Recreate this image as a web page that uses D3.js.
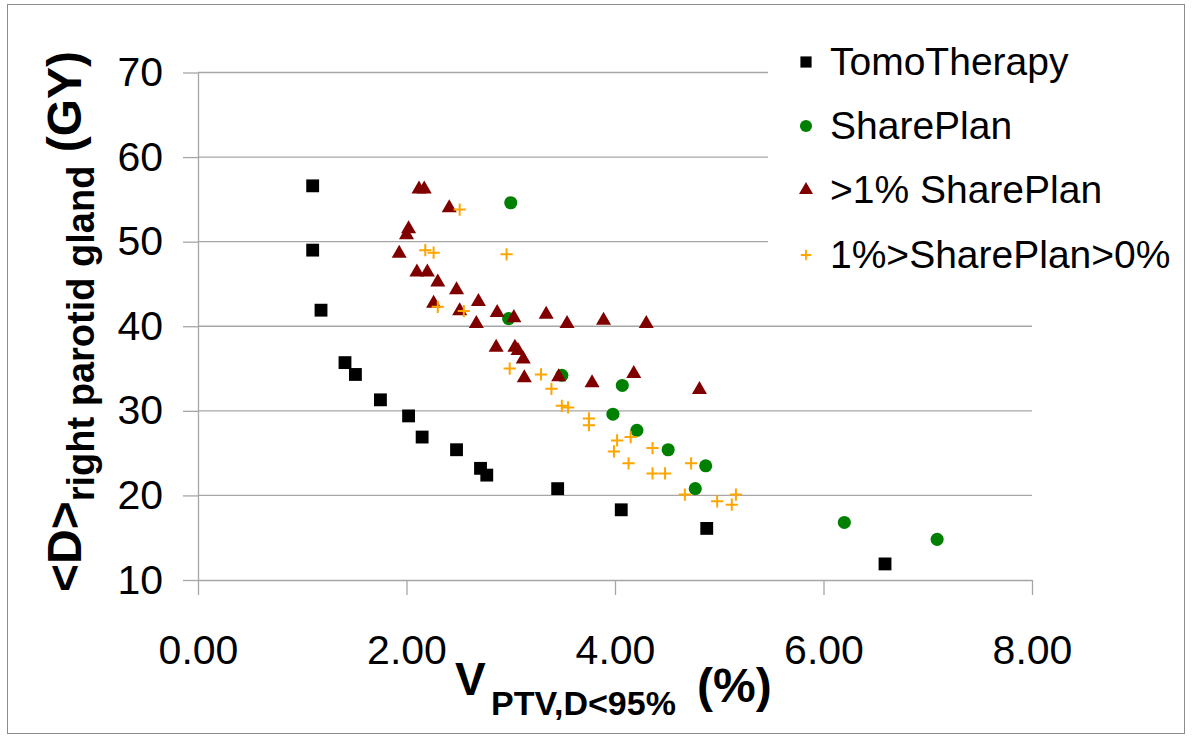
<!DOCTYPE html>
<html>
<head>
<meta charset="utf-8">
<script src="https://cdn.jsdelivr.net/npm/d3@7"></script>
<style>
  html, body { margin: 0; padding: 0; background: #fff; }
  svg { display: block; }
  text { font-family: "Liberation Sans", Arial, sans-serif; }
</style>
</head>
<body>
<svg id="chart" width="1192" height="739"></svg>
<script>
// ---- data ----
const seriesNames = ["TomoTherapy", "SharePlan", ">1% SharePlan", "1%>SharePlan>0%"];

const tomoX = [1.10, 1.10, 1.18, 1.41, 1.51, 1.75, 2.02, 2.15, 2.48, 2.71, 2.77, 3.45, 4.06, 4.88, 6.59];
const tomoY = [56.6, 49.0, 41.9, 35.7, 34.3, 31.3, 29.4, 26.9, 25.4, 23.2, 22.4, 20.8, 18.3, 16.1, 11.9];

const shareX = [3.00, 2.98, 3.49, 4.07, 3.98, 4.21, 4.51, 4.87, 4.77, 6.20, 7.09];
const shareY = [54.6, 40.9, 34.2, 33.0, 29.6, 27.7, 25.4, 23.5, 20.8, 16.8, 14.8];

const gt1X = [2.12, 2.17, 2.41, 2.02, 2.00, 1.93, 2.10, 2.20, 2.30, 2.48, 2.69, 2.26, 2.51, 2.87, 3.03,
              3.34, 3.54, 2.67, 2.86, 3.04, 3.07, 3.12, 3.13, 3.46, 3.78, 4.18, 4.81, 3.89, 4.30];
const gt1Y = [56.2, 56.2, 54.0, 51.5, 50.8, 48.6, 46.4, 46.4, 45.2, 44.3, 42.9, 42.7, 41.8, 41.6, 41.0,
              41.4, 40.3, 40.3, 37.5, 37.5, 37.1, 36.1, 33.9, 34.0, 33.3, 34.4, 32.5, 40.7, 40.3];

const lt1X = [2.51, 2.18, 2.26, 2.96, 2.30, 2.55, 2.99, 3.29, 3.39, 3.49, 3.55, 3.75, 3.75, 4.02, 4.15,
              3.99, 4.36, 4.13, 4.36, 4.48, 4.73, 4.67, 4.98, 5.16, 5.12];
const lt1Y = [53.8, 49.0, 48.7, 48.5, 42.3, 41.8, 35.0, 34.3, 32.6, 30.6, 30.4, 29.1, 28.3, 26.5, 26.9,
              25.2, 25.6, 23.8, 22.6, 22.6, 23.8, 20.1, 19.3, 20.1, 18.9];

const xTicks = [0, 2, 4, 6, 8];
const xTickLabels = ["0.00", "2.00", "4.00", "6.00", "8.00"];
const yTicks = [10, 20, 30, 40, 50, 60, 70];
const yTickLabels = ["10", "20", "30", "40", "50", "60", "70"];

// ---- layout ----
const svg = d3.select("#chart");
const W = 1192, H = 739;
const plot = { left: 198, right: 1032, top: 72.5, bottom: 580 };

const x = d3.scaleLinear().domain([0, 8]).range([plot.left, plot.right]);
const y = d3.scaleLinear().domain([10, 70]).range([plot.bottom, plot.top]);

// chart border
svg.append("rect")
  .attr("x", 7.5).attr("y", 4.5).attr("width", W - 15).attr("height", H - 10)
  .attr("fill", "#fff").attr("stroke", "#8c8c8c").attr("stroke-width", 1);

const gridColor = "#a6a6a6";

// gridlines
svg.append("g").selectAll("line").data(yTicks.filter(d => d !== 10)).join("line")
  .attr("x1", plot.left).attr("x2", plot.right)
  .attr("y1", d => y(d)).attr("y2", d => y(d))
  .attr("stroke", gridColor).attr("stroke-width", 1.3);

// y axis
const yAxis = d3.axisLeft(y).tickValues(yTicks).tickFormat((d, i) => yTickLabels[i])
  .tickSize(15).tickPadding(20).tickSizeOuter(0);
const gy = svg.append("g").attr("transform", `translate(${plot.left},0)`).call(yAxis);
gy.select(".domain").attr("stroke", gridColor).attr("stroke-width", 1.3);
gy.selectAll(".tick line").attr("stroke", gridColor).attr("stroke-width", 1.3);
gy.selectAll(".tick text").attr("font-size", 41).attr("fill", "#000")
  .attr("font-family", "'Liberation Sans', Arial, sans-serif");

// x axis
const xAxis = d3.axisBottom(x).tickValues(xTicks).tickFormat((d, i) => xTickLabels[i])
  .tickSize(15).tickPadding(40).tickSizeOuter(0);
const gx = svg.append("g").attr("transform", `translate(0,${plot.bottom})`).call(xAxis);
gx.select(".domain").attr("stroke", gridColor).attr("stroke-width", 1.3);
gx.selectAll(".tick line").attr("stroke", gridColor).attr("stroke-width", 1.3);
gx.selectAll(".tick text").attr("font-size", 41).attr("fill", "#000")
  .attr("font-family", "'Liberation Sans', Arial, sans-serif");

// legend background (covers the gridlines as in reference)
svg.append("rect").attr("x", 768).attr("y", 28).attr("width", 410).attr("height", 258).attr("fill", "#fff");

// ---- markers ----
const plusType = {
  draw(ctx, size) {
    const r = Math.sqrt(size) / 2;
    ctx.moveTo(-r, 0); ctx.lineTo(r, 0);
    ctx.moveTo(0, -r); ctx.lineTo(0, r);
  }
};

const styles = [
  { type: d3.symbolSquare, size: 165, fill: "#000000", stroke: "none", legendSize: 125 },
  { type: d3.symbolCircle, size: 135, fill: "#008000", stroke: "none", legendSize: 115 },
  { type: d3.symbolTriangle, size: 98, fill: "#800000", stroke: "none", legendSize: 85 },
  { type: plusType, size: 150, fill: "none", stroke: "#ffa500", legendSize: 110 }
];

const seriesData = [
  tomoX.map((v, i) => [v, tomoY[i]]),
  shareX.map((v, i) => [v, shareY[i]]),
  gt1X.map((v, i) => [v, gt1Y[i]]),
  lt1X.map((v, i) => [v, lt1Y[i]])
];

seriesData.forEach((pts, k) => {
  const st = styles[k];
  svg.append("g").selectAll("path").data(pts).join("path")
    .attr("transform", d => `translate(${x(d[0])},${y(d[1])})`)
    .attr("d", d3.symbol().type(st.type).size(st.size)())
    .attr("fill", st.fill)
    .attr("stroke", st.stroke)
    .attr("stroke-width", st.stroke === "none" ? null : 2);
});

// ---- legend ----
const legendRowY = [62, 126, 190, 255];
const lg = svg.append("g");
seriesNames.forEach((name, k) => {
  const st = styles[k];
  lg.append("path")
    .attr("transform", `translate(806,${legendRowY[k]})`)
    .attr("d", d3.symbol().type(st.type).size(st.legendSize)())
    .attr("fill", st.fill).attr("stroke", st.stroke)
    .attr("stroke-width", st.stroke === "none" ? null : 1.8);
  lg.append("text")
    .attr("x", 830).attr("y", legendRowY[k] + 13)
    .attr("font-size", 39).attr("fill", "#000")
    .text(name);
});

// ---- axis titles ----
const yt = svg.append("text")
  .attr("transform", "translate(81,592) rotate(-90)")
  .attr("font-weight", "bold").attr("fill", "#000");
yt.append("tspan").attr("font-size", 48).text("<D>");
yt.append("tspan").attr("font-size", 38).attr("dy", 13).text("right  parotid gland");
yt.append("tspan").attr("font-size", 48).attr("dy", -13).text(" (GY)");

const xt = svg.append("text").attr("font-weight", "bold").attr("fill", "#000");
xt.append("tspan").attr("x", 455).attr("y", 695).attr("font-size", 46).text("V");
xt.append("tspan").attr("x", 491).attr("y", 715).attr("font-size", 34).text("PTV,D<95%");
xt.append("tspan").attr("x", 697).attr("y", 702).attr("font-size", 48).text("(%)");
</script>
</body>
</html>
